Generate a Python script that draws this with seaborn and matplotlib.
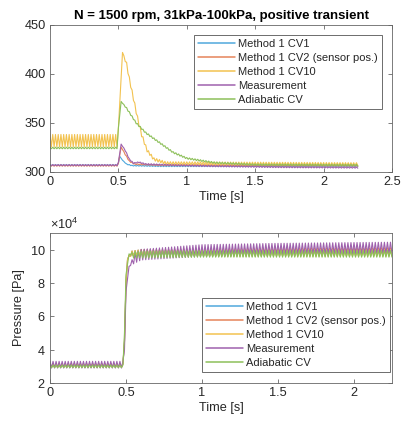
import numpy as np
import pandas as pd
import matplotlib
matplotlib.use("Agg")
import matplotlib.pyplot as plt
import seaborn as sns
from matplotlib.ticker import ScalarFormatter

# ---------------- data ----------------
series_names = ["Method 1 CV1", "Method 1 CV2 (sensor pos.)", "Method 1 CV10",
                "Measurement", "Adiabatic CV"]
colors = ["#4FA8DC", "#E5845A", "#F2C24F", "#9F62AD", "#8DC05A"]

sample_step = 0.01          # one half ripple cycle (50 Hz firing at 1500 rpm)
t_end = 2.25

# Top panel: temperature [K]  (knot times, mean values, ripple half-amplitudes)
T_cv1_t   = [0, 0.49, 0.50, 0.51, 0.53, 0.56, 0.60, 0.80, 2.25]
T_cv1_m   = [307, 307, 309, 316, 312, 308, 306.5, 306, 306]
T_cv1_a   = [0.4, 0.4, 0, 0, 0, 0.3, 0.4, 0.5, 0.5]

T_cv2_t   = [0, 0.49, 0.50, 0.52, 0.55, 0.58, 0.62, 0.80, 2.25]
T_cv2_m   = [306.5, 306.5, 309, 325.5, 318, 311, 308, 307, 306.5]
T_cv2_a   = [0.5, 0.5, 0, 0, 0.5, 0.5, 0.5, 0.6, 0.6]

T_cv10_t  = [0, 0.49, 0.50, 0.53, 0.56, 0.58, 0.61, 0.64, 0.67, 0.71, 0.76, 0.85, 2.25]
T_cv10_m  = [332, 332, 345, 422, 410, 395, 375, 355, 338, 322, 313, 309, 308]
T_cv10_a  = [6.3, 6.3, 0, 0, 2, 2, 2, 2, 2, 1.5, 1.5, 1.5, 1.5]

T_meas_t  = [0, 0.49, 0.50, 0.52, 0.55, 0.58, 0.61, 0.65, 0.70, 0.90, 1.20, 1.70, 2.25]
T_meas_m  = [307, 307, 310, 328.5, 322, 313, 309, 310, 308, 307, 306, 305, 304.5]
T_meas_a  = [0.6, 0.6, 0, 0, 0.5, 0.5, 0.5, 0.5, 0.6, 0.6, 0.6, 0.6, 0.6]

T_adi_t   = [0, 0.49, 0.50, 0.52, 0.56, 0.63, 0.70, 0.80, 0.90, 1.00, 1.20, 1.50, 2.25]
T_adi_m   = [324.5, 324.5, 345, 372, 365, 350, 340, 330, 320, 314, 309.5, 307.5, 307]
T_adi_a   = [0.8, 0.8, 0, 0, 0.8, 0.8, 0.8, 0.8, 0.8, 0.8, 0.8, 0.8, 0.8]

# Bottom panel: pressure [Pa]
P_cv1_t   = [0, 0.48, 0.49, 0.50, 0.51, 0.53, 0.60, 1.00, 2.25]
P_cv1_m   = [3.05e4, 3.05e4, 4.5e4, 8.0e4, 9.4e4, 9.75e4, 9.8e4, 9.8e4, 9.85e4]
P_cv1_a   = [0.1e4, 0.1e4, 0, 0, 0, 0.15e4, 0.2e4, 0.2e4, 0.2e4]

P_cv2_t   = P_cv1_t
P_cv2_m   = [3.05e4, 3.05e4, 4.5e4, 8.0e4, 9.4e4, 9.75e4, 9.8e4, 9.85e4, 9.9e4]
P_cv2_a   = [0.12e4, 0.12e4, 0, 0, 0, 0.15e4, 0.2e4, 0.22e4, 0.22e4]

P_cv10_t  = P_cv1_t
P_cv10_m  = [3.05e4, 3.05e4, 4.5e4, 8.0e4, 9.4e4, 9.75e4, 9.8e4, 9.8e4, 9.8e4]
P_cv10_a  = [0.1e4, 0.1e4, 0, 0, 0, 0.15e4, 0.2e4, 0.2e4, 0.2e4]

P_meas_t  = [0, 0.48, 0.49, 0.50, 0.52, 0.56, 0.60, 1.00, 1.50, 2.25]
P_meas_m  = [3.1e4, 3.1e4, 4.0e4, 7.5e4, 9.0e4, 9.5e4, 9.7e4, 9.95e4, 10.05e4, 10.12e4]
P_meas_a  = [0.2e4, 0.2e4, 0, 0, 0, 0.3e4, 0.32e4, 0.35e4, 0.33e4, 0.33e4]

P_adi_t   = [0, 0.48, 0.49, 0.50, 0.52, 0.55, 1.00, 2.25]
P_adi_m   = [3.0e4, 3.0e4, 5.0e4, 8.5e4, 9.75e4, 9.7e4, 9.75e4, 9.75e4]
P_adi_a   = [0.08e4, 0.08e4, 0, 0, 0, 0.2e4, 0.2e4, 0.2e4]

temp_data = [(T_cv1_t, T_cv1_m, T_cv1_a), (T_cv2_t, T_cv2_m, T_cv2_a),
             (T_cv10_t, T_cv10_m, T_cv10_a), (T_meas_t, T_meas_m, T_meas_a),
             (T_adi_t, T_adi_m, T_adi_a)]
pres_data = [(P_cv1_t, P_cv1_m, P_cv1_a), (P_cv2_t, P_cv2_m, P_cv2_a),
             (P_cv10_t, P_cv10_m, P_cv10_a), (P_meas_t, P_meas_m, P_meas_a),
             (P_adi_t, P_adi_m, P_adi_a)]

title = "N = 1500 rpm, 31kPa-100kPa, positive transient"


def build(knots):
    kt, km, ka = knots
    t = np.round(np.arange(0, t_end + 1e-9, sample_step), 4)
    sign = np.where(np.arange(len(t)) % 2 == 0, 1.0, -1.0)
    y = np.interp(t, kt, km) + sign * np.interp(t, kt, ka)
    return t, y


# ---------------- style ----------------
sns.set_theme(style="white")
plt.rcParams["font.family"] = ["Liberation Sans", "DejaVu Sans"]
plt.rcParams["mathtext.fontset"] = "custom"
plt.rcParams["mathtext.rm"] = "Liberation Sans"
axis_grey = "#262626"

fig = plt.figure(figsize=(4.01, 4.23), dpi=100)
ax1 = fig.add_axes([50 / 401, 1 - 172 / 423, 342 / 401, 147 / 423])
ax2 = fig.add_axes([50 / 401, 1 - 383 / 423, 342 / 401, 150 / 423])

FS = 9.2


def style_axes(ax):
    for s in ax.spines.values():
        s.set_color("#666666")
        s.set_linewidth(0.6)
    ax.tick_params(direction="in", length=3, width=0.6, colors="#666666",
                   labelcolor=axis_grey, labelsize=FS, top=True, right=True,
                   bottom=True, left=True, pad=3)


for ax, data in [(ax1, temp_data), (ax2, pres_data)]:
    for name, col, knots in zip(series_names, colors, data):
        t, y = build(knots)
        df = pd.DataFrame({"t": t, "y": y})
        sns.lineplot(data=df, x="t", y="y", ax=ax, color=col, lw=0.8,
                     label=name, estimator=None, sort=False)
    style_axes(ax)

# top panel
ax1.set_xlim(0, 2.5)
ax1.set_ylim(300, 450)
ax1.set_xticks([0, 0.5, 1, 1.5, 2, 2.5])
ax1.set_xticklabels(["0", "0.5", "1", "1.5", "2", "2.5"])
ax1.set_yticks([300, 350, 400, 450])
ax1.set_xlabel("Time [s]", fontsize=FS, color=axis_grey, labelpad=2)
ax1.set_ylabel("")
ax1.set_title(title, fontsize=9.5, fontweight="bold", color="black", pad=4)

# bottom panel
ax2.set_xlim(0, 2.25)
ax2.set_ylim(2e4, 11e4)
ax2.set_xticks([0, 0.5, 1, 1.5, 2])
ax2.set_xticklabels(["0", "0.5", "1", "1.5", "2"])
ax2.set_yticks([2e4, 4e4, 6e4, 8e4, 10e4])
fmt = ScalarFormatter(useMathText=True)
fmt.set_powerlimits((4, 4))
ax2.yaxis.set_major_formatter(fmt)
ax2.yaxis.get_offset_text().set_fontsize(FS)
ax2.yaxis.get_offset_text().set_color(axis_grey)
ax2.set_xlabel("Time [s]", fontsize=FS, color=axis_grey, labelpad=2)
ax2.set_ylabel("Pressure [Pa]", fontsize=FS, color=axis_grey, labelpad=4)

leg_kw = dict(fontsize=8.0, frameon=True, fancybox=False, framealpha=1,
              edgecolor="#555555", handlelength=3.3, handletextpad=0.3,
              labelspacing=0.36, borderpad=0.35, borderaxespad=0)
l1 = ax1.legend(loc="upper right", bbox_to_anchor=(382 / 401, 1 - 35.5 / 423),
                bbox_transform=fig.transFigure, **leg_kw)
l2 = ax2.legend(loc="lower right", bbox_to_anchor=(390 / 401, 1 - 372 / 423),
                bbox_transform=fig.transFigure, **leg_kw)
for l in (l1, l2):
    l.get_frame().set_linewidth(0.6)
    for txt in l.get_texts():
        txt.set_color(axis_grey)
    for h in l.get_lines():
        h.set_linewidth(1.1)

fig.savefig("out.png", dpi=100)
